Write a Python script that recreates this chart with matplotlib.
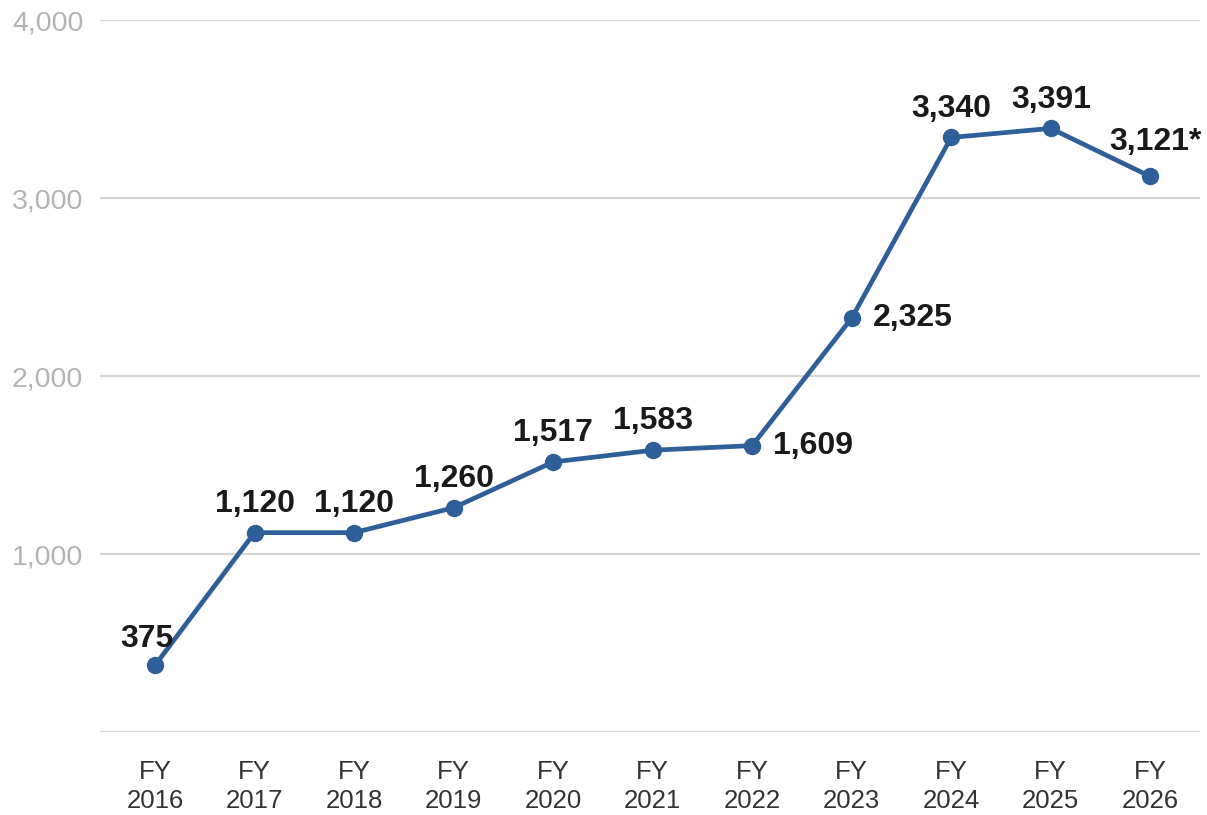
import matplotlib.pyplot as plt

years = ['2016', '2017', '2018', '2019', '2020', '2021', '2022', '2023', '2024', '2025', '2026']
values = [375, 1120, 1120, 1260, 1517, 1583, 1609, 2325, 3340, 3391, 3121]
labels = ['375', '1,120', '1,120', '1,260', '1,517', '1,583', '1,609', '2,325', '3,340', '3,391', '3,121*']
# label offsets in points (dx, dy) and horizontal alignment
offsets = [(-6, 8, 'center'), (0, 10, 'center'), (0, 10, 'center'), (0, 10, 'center'),
           (0, 10, 'center'), (0, 10, 'center'), (15, 0, 'left'), (15, 0, 'left'),
           (0, 10, 'center'), (0, 10, 'center'), (4, 14, 'center')]

plt.rcParams['font.family'] = ['Liberation Sans', 'DejaVu Sans']

fig = plt.figure(figsize=(12.07, 8.15), dpi=100)
ax = fig.add_axes([100 / 1207, 1 - 732 / 815, 1100 / 1207, 712 / 815])

x = list(range(len(years)))
ax.plot(x, values, color='#2f5f98', linewidth=3.4, marker='o', markersize=11.5, zorder=3)

for xi, v, lab, (dx, dy, ha) in zip(x, values, labels, offsets):
    ax.annotate(lab, (xi, v), xytext=(dx, dy), textcoords='offset points',
                ha=ha, va='bottom' if dy > 0 else 'center', fontsize=23,
                fontweight='bold', color='#1a1a1a', zorder=4)

ax.set_xlim(-0.553, 10.5)
ax.set_ylim(0, 4000)
ax.set_yticks([0, 1000, 2000, 3000, 4000])
ax.set_yticklabels(['', '1,000', '2,000', '3,000', '4,000'])
ax.set_xticks(x)
ax.set_xticklabels(['FY\n' + y for y in years], fontsize=18.5, color='#333333', linespacing=1.3)
ax.tick_params(axis='y', labelsize=20.5, labelcolor='#b3b3b3', length=0, pad=12)
ax.tick_params(axis='x', length=0, pad=20)
ax.grid(axis='y', color='#d4d4d4', linewidth=1.5)
ax.set_axisbelow(True)
for s in ax.spines.values():
    s.set_visible(False)

fig.savefig('out.png', dpi=100)
